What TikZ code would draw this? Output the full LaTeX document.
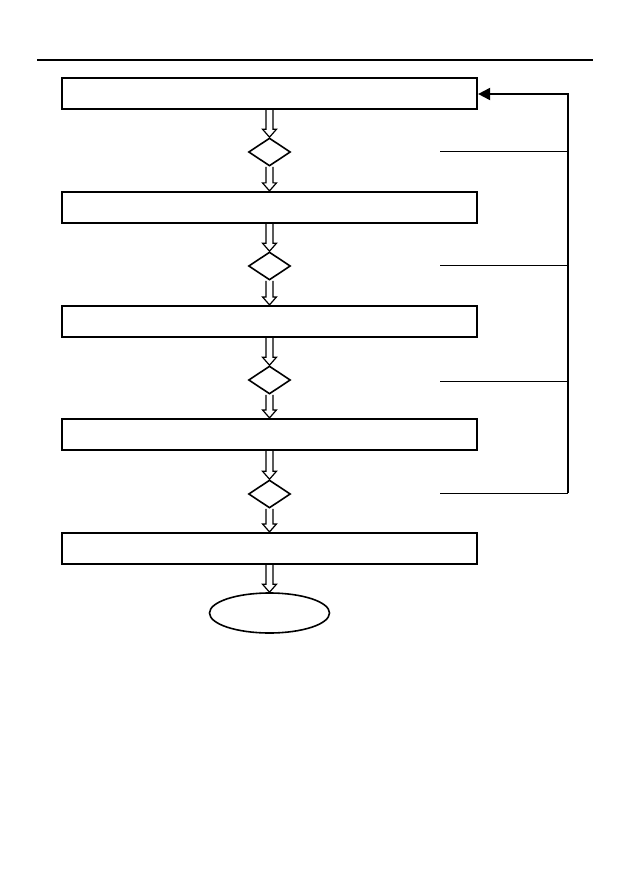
\documentclass[tikz,border=0pt]{standalone}
\usepackage{tikz}
\usetikzlibrary{shapes.geometric,arrows.meta,calc}

% flecha hueca de un nodo al siguiente
\newcommand{\hueca}[2]{%
  \draw[line width=1.2pt, line join=miter]
    ($(#1.south)+(-3.5,0)$) -- ($(#2.north)+(-3.5,-8)$) -- ($(#2.north)+(-7,-8)$)
    -- (#2.north) -- ($(#2.north)+(7,-8)$) -- ($(#2.north)+(3.5,-8)$)
    -- ($(#1.south)+(3.5,0)$);}

\begin{document}
\begin{tikzpicture}[
  x=1pt, y=-1pt,
  caja/.style={rectangle, draw, line width=2.2pt, minimum width=415pt, minimum height=31pt, inner sep=0pt},
  rombo/.style={diamond, draw, line width=1.6pt, minimum width=42pt, minimum height=28pt, inner sep=0pt},
  fin/.style={ellipse, draw, line width=1.6pt, minimum width=120pt, minimum height=40pt, inner sep=0pt},
  retorno/.style={line width=1pt}
]
  \useasboundingbox (0,0) rectangle (629,893);
  \draw[line width=1.4pt] (37,60) -- (593,60);

  \node[caja]  (c1) at (269.5,93.5)  {};
  \node[rombo] (d1) at (269.5,152)   {};
  \node[caja]  (c2) at (269.5,207.5) {};
  \node[rombo] (d2) at (269.5,266)   {};
  \node[caja]  (c3) at (269.5,321.5) {};
  \node[rombo] (d3) at (269.5,380)   {};
  \node[caja]  (c4) at (269.5,434.5) {};
  \node[rombo] (d4) at (269.5,494)   {};
  \node[caja]  (c5) at (269.5,548.5) {};
  \node[fin]   (e)  at (269.5,613)   {};

  \hueca{c1}{d1} \hueca{d1}{c2}
  \hueca{c2}{d2} \hueca{d2}{c3}
  \hueca{c3}{d3} \hueca{d3}{c4}
  \hueca{c4}{d4} \hueca{d4}{c5}
  \hueca{c5}{e}

  % lineas de retorno
  \coordinate (r1) at (440,152);
  \coordinate (r2) at (440,265);
  \coordinate (r3) at (440,381);
  \coordinate (r4) at (440,493);
  \coordinate (s1) at (568,152);
  \coordinate (s2) at (568,265);
  \coordinate (s3) at (568,381);
  \coordinate (s4) at (568,493);
  \coordinate (s0) at (568,94);
  \draw[retorno] (r1) -- (s1) (r2) -- (s2) (r3) -- (s3) (r4) -- (s4);
  \draw[line width=2pt, line join=miter, -{Triangle[length=12pt,width=12pt]}]
    (s4) -- (s0) -- (c1.east |- s0);
\end{tikzpicture}
\end{document}
